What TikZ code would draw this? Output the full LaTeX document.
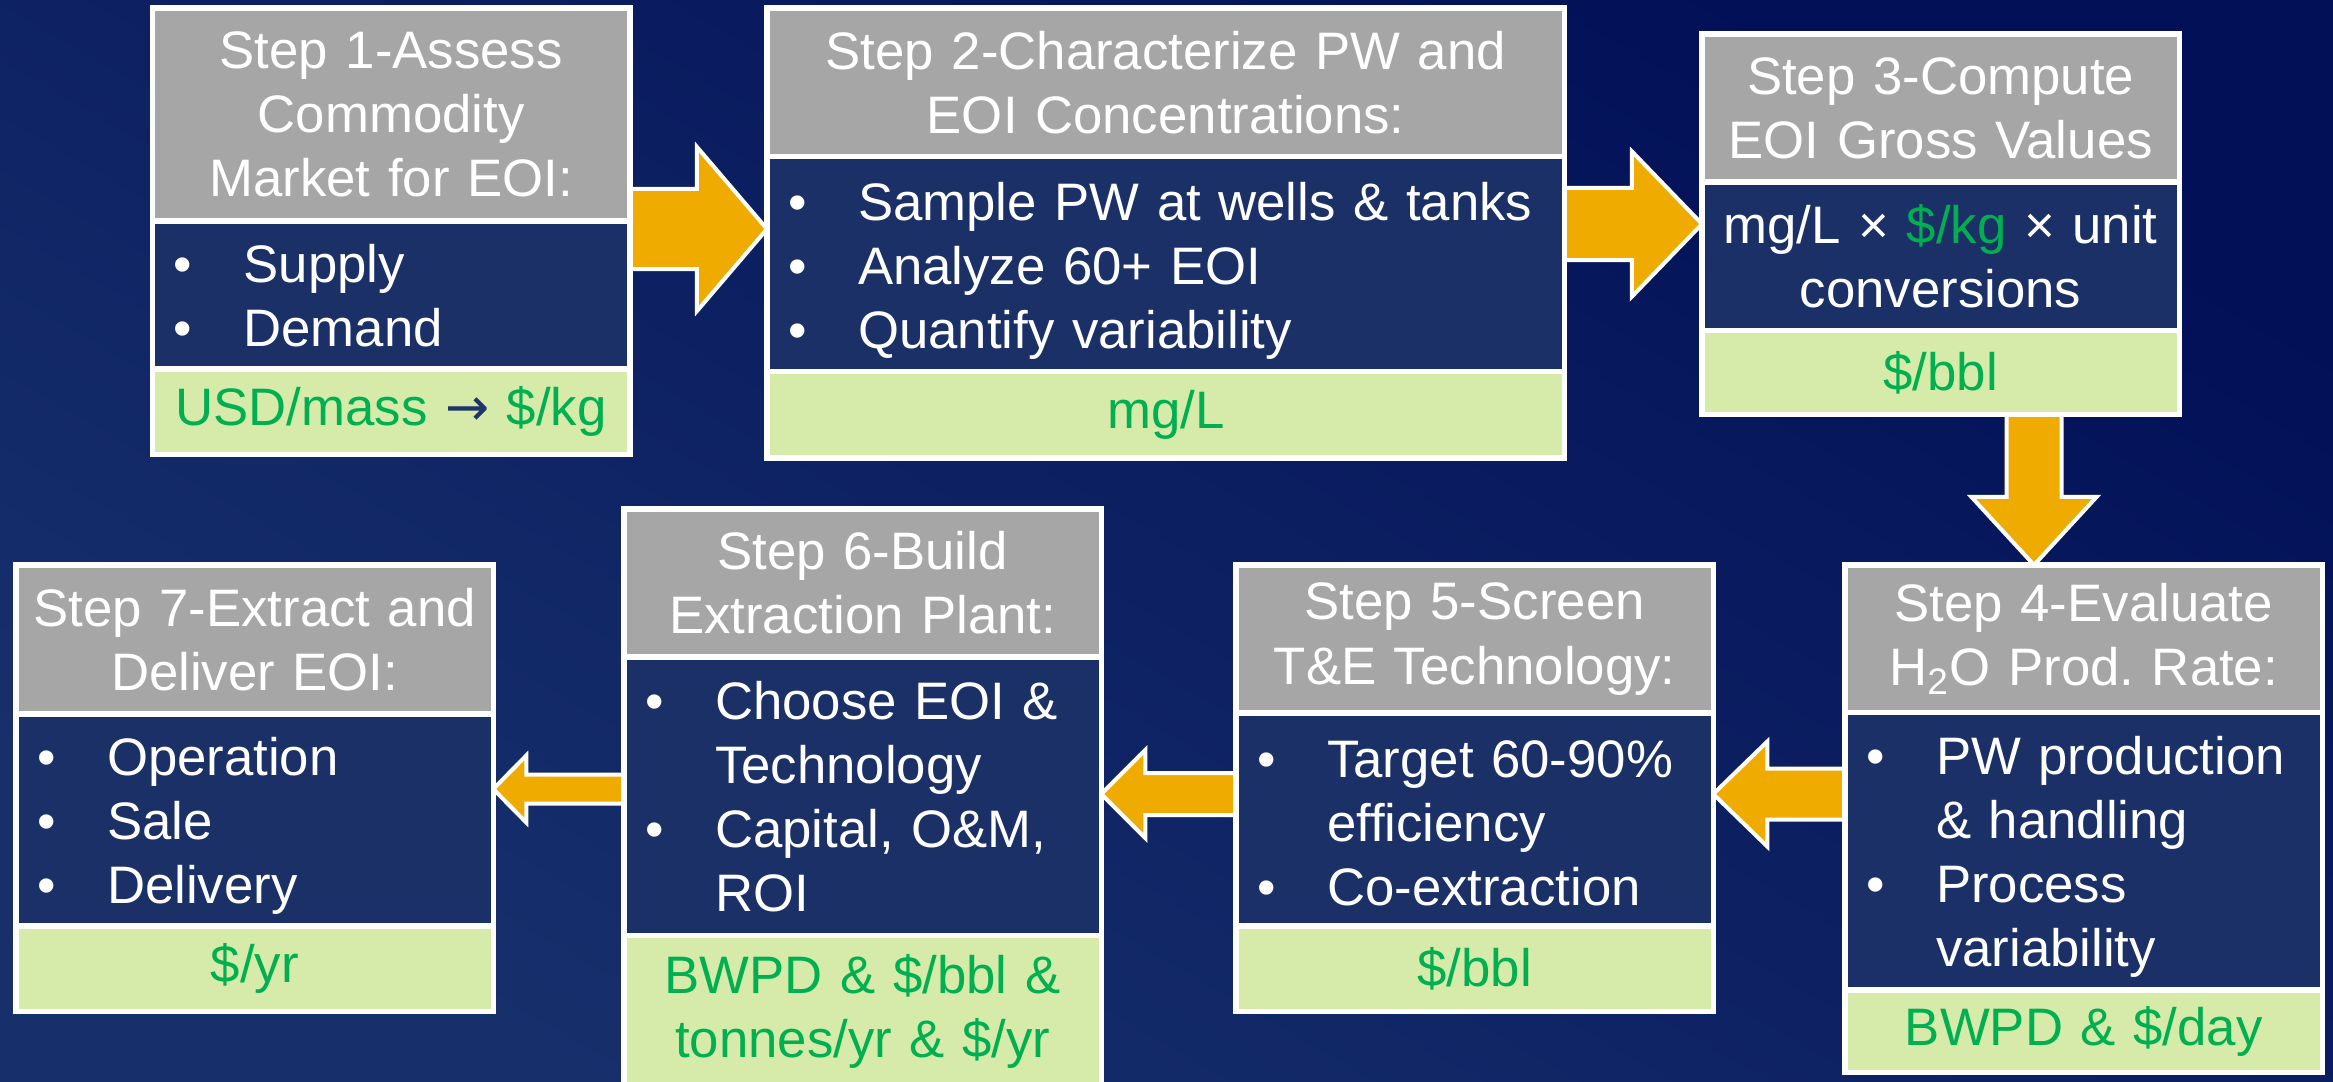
\documentclass[tikz,border=0pt]{standalone}
\usepackage{fontspec}
\setmainfont{Liberation Sans}
\newfontfamily\arrowfont{DejaVu Sans}
\usetikzlibrary{positioning, calc}
\definecolor{bgDark}{HTML}{021057}
\definecolor{bgLight}{HTML}{17306C}
\definecolor{headGray}{HTML}{A6A6A6}
\definecolor{bodyNavy}{HTML}{1A3067}
\definecolor{footGreen}{HTML}{D6EAAA}
\definecolor{textGreen}{HTML}{00B050}
\definecolor{arrowOrange}{HTML}{F0AB00}
\definecolor{arrowNavy}{HTML}{1F3468}
\pgfdeclarelayer{back}
\pgfdeclarelayer{links}
\pgfsetlayers{back,links,main}
\newcommand{\stepfont}{\fontsize{15}{18.2}\selectfont\frenchspacing}
\newcommand{\bitem}[1]{\par\noindent\hangindent=0.74cm\hangafter=1\makebox[0.74cm][l]{\hspace{0.04cm}\textbullet}#1\par}
% fat arrow: tail, tip, half shaft, half head, head length
\newcommand{\blockarrow}[5]{%
  \coordinate (ahBase) at ($(#2)!#5!(#1)$);
  \draw[flowarrow] ($(#1)!#3!90:(#2)$) -- ($(ahBase)!#3!90:(#2)$) -- ($(ahBase)!#4!90:(#2)$)
    -- (#2) -- ($(ahBase)!#4!-90:(#2)$) -- ($(ahBase)!#3!-90:(#2)$) -- ($(#1)!#3!-90:(#2)$) -- cycle;}

\begin{document}
\begin{tikzpicture}[x=0.01cm, y=-0.01cm,
  sect/.style={draw=white, line width=0.055cm, inner xsep=0.17cm, inner ysep=0pt, outer sep=0pt, font=\stepfont},
  narrow/.style={minimum width=4.77cm, text width=4.43cm},
  broad/.style={minimum width=7.97cm, text width=7.63cm},
  headbox/.style={sect, fill=headGray, text=white, align=center, inner xsep=0.03cm, text width=4.71cm},
  bodybox/.style={sect, fill=bodyNavy, text=white, align=left},
  listtext/.style={text=white, align=left, inner xsep=0.17cm, inner ysep=0pt, font=\stepfont},
  footbox/.style={sect, fill=footGreen, text=textGreen, align=center},
  flowarrow/.style={fill=arrowOrange, draw=white, line width=0.04cm, line join=miter}]
\useasboundingbox (0,0) rectangle (2333,1081);
\begin{pgfonlayer}{back}
\shade[top color=bgDark, bottom color=bgLight, shading angle=-30] (0,0) rectangle (2333,1081);
\end{pgfonlayer}

% top row
\node[narrow, headbox, minimum height=2.13cm, anchor=north west] (h1) at (152.5,8) {Step 1-Assess\\Commodity\\Market for EOI:};
\node[bodybox, narrow, minimum height=1.48cm, below=0pt of h1] (b1) {};
\node[listtext, narrow] (l1) at ([yshift=0.12cm]b1.center) {\bitem{Supply}\bitem{Demand}};
\node[footbox, narrow, minimum height=0.85cm, below=0pt of b1] (f1) {USD/mass \textcolor{arrowNavy}{\arrowfont →} \$/kg};

\node[broad, headbox, text width=7.91cm, minimum height=1.485cm, anchor=north west] (h2) at (767,8) {Step 2-Characterize PW and\\EOI Concentrations:};
\node[bodybox, broad, minimum height=2.15cm, below=0pt of h2] (b2) {};
\node[listtext, broad] (l2) at ([yshift=0.06cm]b2.center) {\bitem{Sample PW at wells \& tanks}\bitem{Analyze 60+ EOI}\bitem{Quantify variability}};
\node[footbox, broad, minimum height=0.86cm, below=0pt of b2] (f2) {mg/L};

\node[narrow, headbox, minimum height=1.48cm, anchor=north west] (h3) at (1702,34) {Step 3-Compute\\EOI Gross Values};
\node[bodybox, narrow, align=center, minimum height=1.485cm, below=0pt of h3] (b3) {mg/L × \textcolor{textGreen}{\$/kg} × unit\\conversions};
\node[footbox, narrow, minimum height=0.84cm, below=0pt of b3] (f3) {\$/bbl};

% bottom row
\node[narrow, headbox, minimum height=1.475cm, anchor=north west] (h4) at (1845,565) {Step 4-Evaluate\\H\textsubscript{2}O Prod. Rate:};
\node[bodybox, narrow, minimum height=2.77cm, below=0pt of h4] (b4) {};
\node[listtext, narrow] (l4) at ([yshift=0.07cm]b4.center) {\bitem{PW production\newline\& handling}\bitem{Process\newline variability}};
\node[footbox, narrow, minimum height=0.825cm, below=0pt of b4] (f4) {BWPD \& \$/day};

\node[narrow, headbox, minimum height=1.48cm, anchor=north west] (h5) at (1236,565) {Step 5-Screen\\T\&E Technology:};
\node[bodybox, narrow, minimum height=2.13cm, below=0pt of h5] (b5) {};
\node[listtext, narrow] (l5) at ([yshift=0.1cm]b5.center) {\bitem{Target 60-90\%\newline efficiency}\bitem{Co-extraction}};
\node[footbox, narrow, minimum height=0.85cm, below=0pt of b5] (f5) {\$/bbl};

\node[narrow, headbox, minimum height=1.48cm, anchor=north west] (h6) at (624,509) {Step 6-Build\\Extraction Plant:};
\node[bodybox, narrow, minimum height=2.78cm, below=0pt of h6] (b6) {};
\node[listtext, narrow] (l6) at ([yshift=0.12cm]b6.center) {\bitem{Choose EOI \&\newline Technology}\bitem{Capital, O\&M,\newline ROI}};
\node[footbox, narrow, minimum height=1.52cm, below=0pt of b6] (f6) {BWPD \& \$/bbl \&\\tonnes/yr \& \$/yr};

\node[narrow, headbox, minimum height=1.49cm, anchor=north west] (h7) at (16,565) {Step 7-Extract and\\Deliver EOI:};
\node[bodybox, narrow, minimum height=2.12cm, below=0pt of h7] (b7) {};
\node[listtext, narrow] (l7) at ([yshift=0.07cm]b7.center) {\bitem{Operation}\bitem{Sale}\bitem{Delivery}};
\node[footbox, narrow, minimum height=0.85cm, below=0pt of b7] (f7) {\$/yr};

\begin{pgfonlayer}{links}
\coordinate (t12) at (b1.east |- 0,229);
\coordinate (p12) at (b2.west |- 0,229);
\blockarrow{t12}{p12}{0.40cm}{0.82cm}{0.70cm}
\coordinate (t23) at (b2.east |- 0,224);
\coordinate (p23) at (h3.west |- 0,224);
\blockarrow{t23}{p23}{0.36cm}{0.725cm}{0.70cm}
\coordinate (t34) at (f3.south -| 2034,0);
\coordinate (p34) at (h4.north -| 2034,0);
\blockarrow{t34}{p34}{0.275cm}{0.625cm}{0.68cm}
\coordinate (t45) at (b4.west |- 0,794);
\coordinate (p45) at (b5.east |- 0,794);
\blockarrow{t45}{p45}{0.255cm}{0.525cm}{0.54cm}
\coordinate (t56) at (b5.west |- 0,794);
\coordinate (p56) at (b6.east |- 0,794);
\blockarrow{t56}{p56}{0.21cm}{0.44cm}{0.44cm}
\coordinate (t67) at (b6.west |- 0,789);
\coordinate (p67) at (b7.east |- 0,789);
\blockarrow{t67}{p67}{0.145cm}{0.335cm}{0.33cm}
\end{pgfonlayer}
\end{tikzpicture}
\end{document}
